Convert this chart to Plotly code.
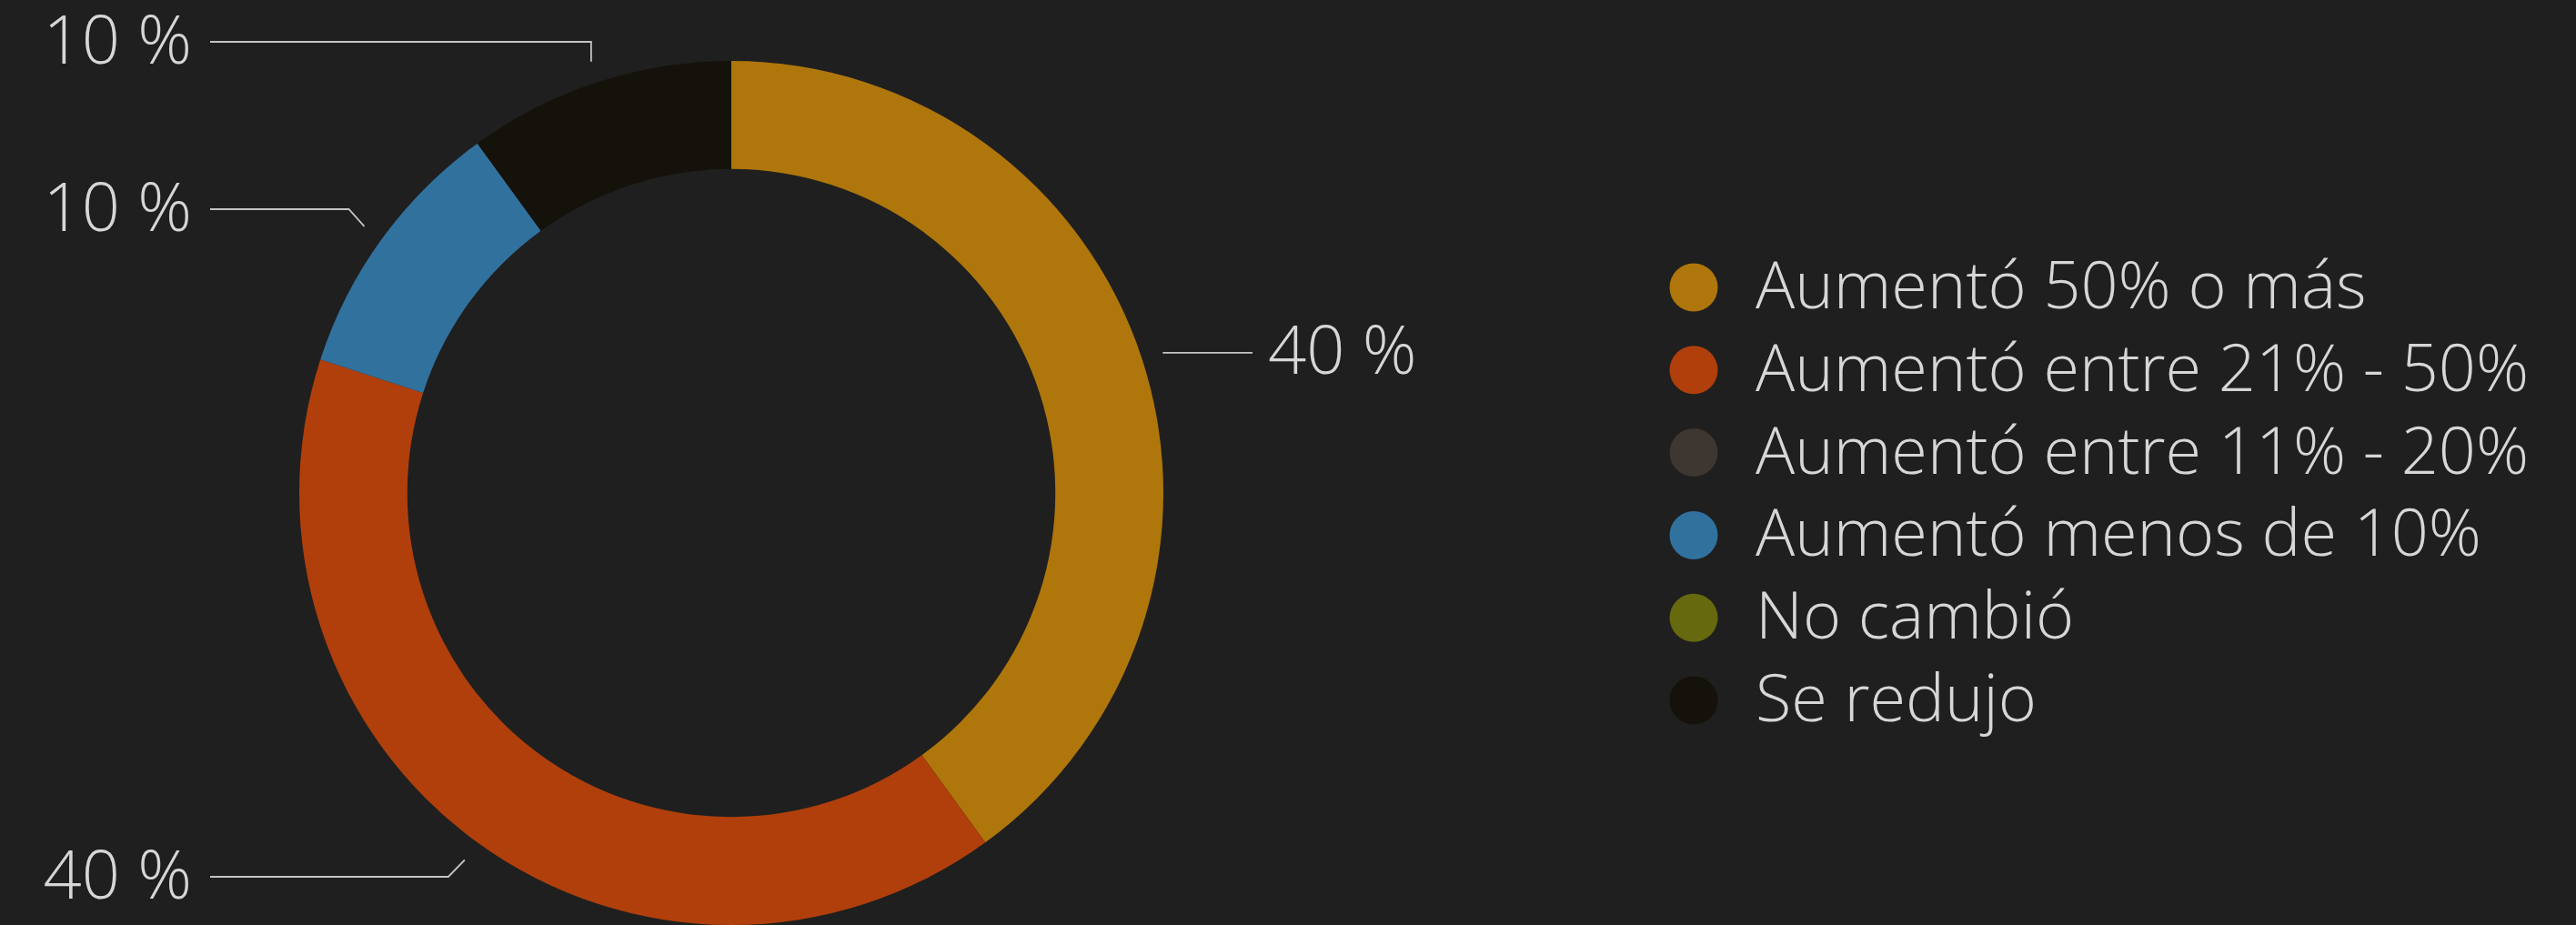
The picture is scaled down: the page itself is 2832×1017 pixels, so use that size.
import math
import plotly.graph_objects as go

# ---- data ----
categories = ["Aumentó 50% o más", "Aumentó entre 21% - 50%", "Aumentó entre 11% - 20%",
              "Aumentó menos de 10%", "No cambió", "Se redujo"]
values = [40, 40, 0, 10, 0, 10]
label_texts = ["40 %", "40 %", "", "10 %", "", "10 %"]
colors = ["#AF760B", "#B03F0C", "#3E3630", "#31719E", "#66690D", "#15120B"]

# ---- layout constants (pixels) ----
W, H = 2832, 1017
BG = "#1F1F1F"
TXT = "#D6D6D6"
LINE = "#C4C4C4"
FONT = "Open Sans"
CX, CY, R = 804, 542, 475
HOLE = 0.75
TXT_DY = 5  # optical vertical correction for text

fig = go.Figure()
fig.add_trace(go.Pie(
    labels=categories, values=values, sort=False, direction="clockwise", rotation=0,
    hole=HOLE, marker=dict(colors=colors, line=dict(width=0)), textinfo="none",
    showlegend=False, hoverinfo="label+percent",
    domain=dict(x=[(CX - R) / W, (CX + R) / W], y=[0, (2 * R) / H]),
))

# leader lines + labels (geometry derived from slice values)
total = sum(values)
cum = 0
mids = []
for v in values:
    mids.append((cum + v / 2) / total * 2 * math.pi)
    cum += v

# per labelled slice: side, label y, elbow dx
leader_cfg = {0: ("right", None, 0), 1: ("left", 964, -18), 3: ("left", 230, -17), 5: ("left", 46, 0)}
for i, (side, ly, edx) in leader_cfg.items():
    a = mids[i]
    r0 = R * 1.05
    x0 = CX + r0 * math.sin(a)
    y0 = CY - r0 * math.cos(a)
    if ly is None:
        ly = y0
    x1 = x0 + edx
    x2 = 1377 if side == "right" else 231
    fig.add_trace(go.Scatter(x=[x0, x1, x2], y=[y0, ly, ly], mode="lines",
                             line=dict(color=LINE, width=1.8), hoverinfo="skip", showlegend=False))
    tx = x2 + 17 if side == "right" else x2 - 20
    fig.add_trace(go.Scatter(x=[tx], y=[ly + TXT_DY], mode="text", text=[label_texts[i]],
                             textposition="middle right" if side == "right" else "middle left",
                             textfont=dict(family=FONT, size=74, color=TXT, weight=300),
                             hoverinfo="skip", showlegend=False))

# legend (custom, circle markers)
LX, LY0, LDY = 1862, 316, 90.8
ly_list = [LY0 + k * LDY for k in range(len(categories))]
fig.add_trace(go.Scatter(x=[LX] * len(categories), y=ly_list, mode="markers",
                         marker=dict(size=53, color=colors, line=dict(width=0)),
                         hoverinfo="skip", showlegend=False))
fig.add_trace(go.Scatter(x=[LX + 68] * len(categories), y=[v + TXT_DY for v in ly_list],
                         mode="text", text=categories, textposition="middle right",
                         textfont=dict(family=FONT, size=72, color=TXT, weight=300),
                         hoverinfo="skip", showlegend=False))

fig.update_layout(
    width=W, height=H, paper_bgcolor=BG, plot_bgcolor=BG,
    margin=dict(l=0, r=0, t=0, b=0),
    xaxis=dict(range=[0, W], visible=False, fixedrange=True),
    yaxis=dict(range=[H, 0], visible=False, fixedrange=True),
    font=dict(family=FONT, color=TXT),
)
fig.write_html("out.html")
